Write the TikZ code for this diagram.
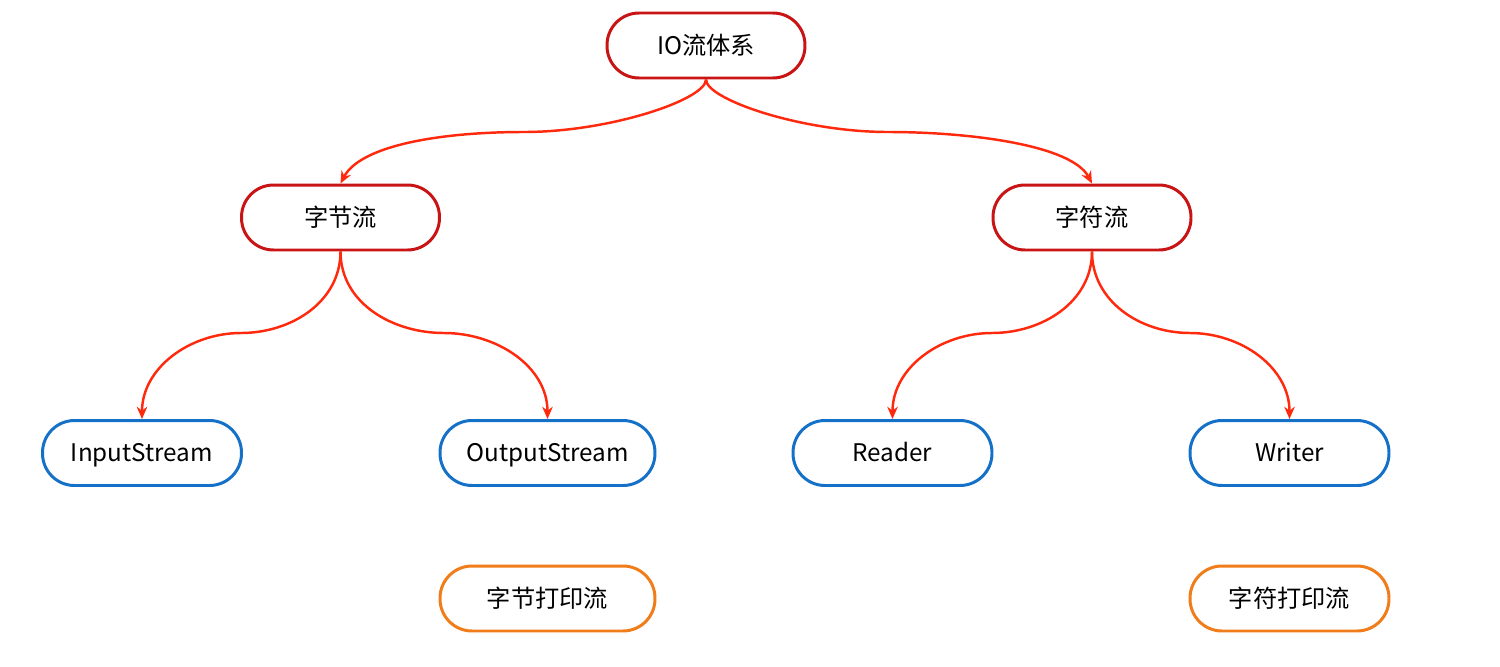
\documentclass[tikz,border=0pt]{standalone}
\usepackage{fontspec}
\setmainfont{Noto Sans CJK SC}
\usetikzlibrary{arrows.meta}
\definecolor{topred}{HTML}{C81414}
\definecolor{linkred}{HTML}{FF2A0E}
\definecolor{nodeblue}{HTML}{1570C8}
\definecolor{nodeorange}{HTML}{F07D1A}
\tikzset{
  pill/.style={draw, line width=1.7pt, fill=white, rounded corners=0.64cm,
    minimum height=1.3cm, inner sep=0pt, text height=0.98em, text depth=0em,
    font=\fontsize{13.8pt}{16pt}\selectfont},
  redpill/.style={pill, draw=topred, minimum width=3.96cm},
  bluepill/.style={pill, draw=nodeblue, minimum width=3.98cm},
  orangepill/.style={pill, draw=nodeorange, minimum width=3.98cm},
  link/.style={draw=linkred, line width=1.4pt, -{Stealth[length=7pt,width=6pt]}},
}
\begin{document}
\begin{tikzpicture}[x=0.02cm,y=-0.02cm]
\useasboundingbox (0,0) rectangle (1500,666);
\node[redpill] (io) at (706,45.5) {IO流体系};
\node[redpill] (byte) at (340.5,217.5) {字节流};
\node[redpill] (char) at (1092,217.5) {字符流};
\node[bluepill] (in) at (142,453) {InputStream};
\node[bluepill, minimum width=4.3cm] (out) at (547.5,453) {OutputStream};
\node[bluepill] (rd) at (892.5,453) {Reader};
\node[bluepill] (wr) at (1289.5,453) {Writer};
\node[orangepill, minimum width=4.3cm] (bp) at (547.5,598.5) {字节打印流};
\node[orangepill] (cp) at (1289.5,598.5) {字符打印流};

\coordinate (m1) at (524,132);
\coordinate (m2) at (888,132);
\coordinate (m3) at (241,333);
\coordinate (m4) at (444,333);
\coordinate (m5) at (992,333);
\coordinate (m6) at (1190,333);

\draw[link] (io.south) .. controls +(0,20) and +(86,0) .. (m1)
  .. controls +(-84,0) and +(20,-38) .. (byte.north);
\draw[link] (io.south) .. controls +(0,20) and +(-86,0) .. (m2)
  .. controls +(84,0) and +(-20,-38) .. (char.north);
\draw[link] (byte.south) to[out=-90,in=0] (m3) to[out=180,in=90] (in.north);
\draw[link] (byte.south) to[out=-90,in=180] (m4) to[out=0,in=90] (out.north);
\draw[link] (char.south) to[out=-90,in=0] (m5) to[out=180,in=90] (rd.north);
\draw[link] (char.south) to[out=-90,in=180] (m6) to[out=0,in=90] (wr.north);
\end{tikzpicture}
\end{document}
